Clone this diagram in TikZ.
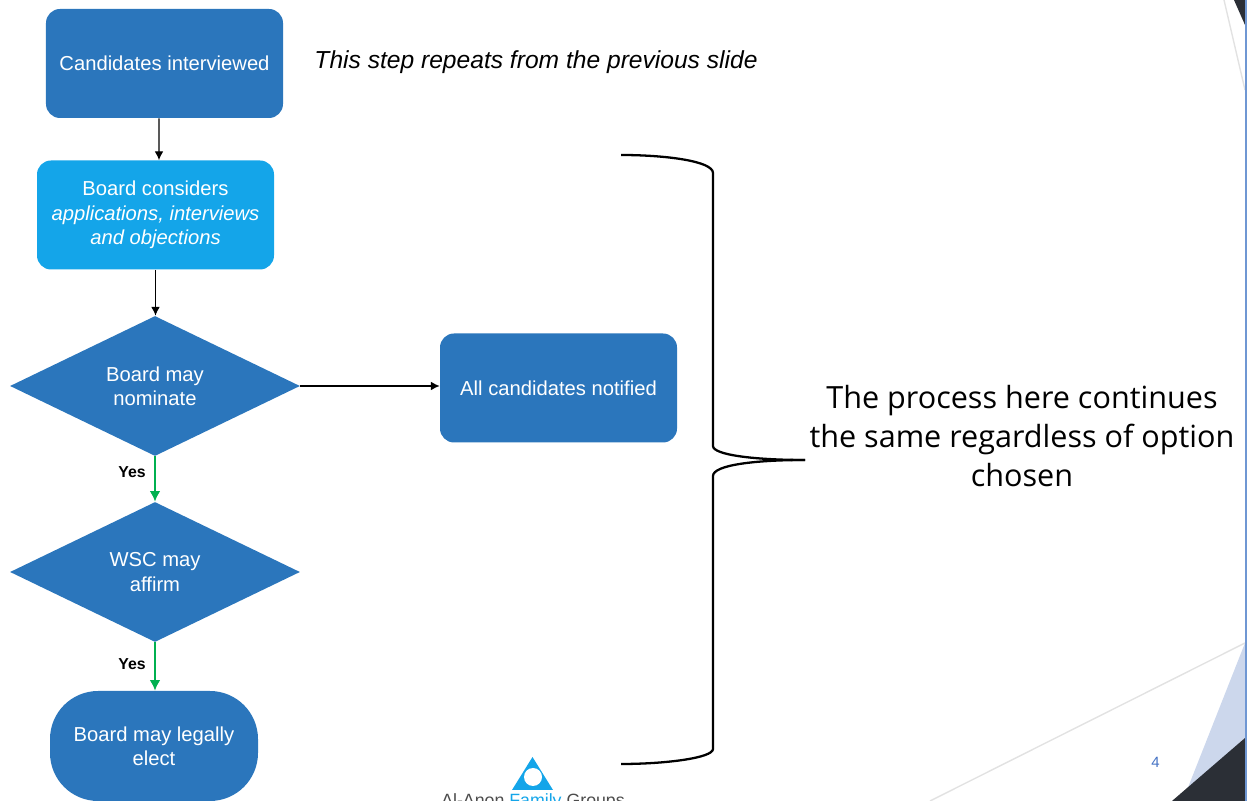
\documentclass[tikz,border=0pt]{standalone}
\usepackage{fontspec}
\setmainfont{Liberation Sans}
\newfontfamily\bigfont{Open Sans}
\usetikzlibrary{shapes.geometric,arrows.meta}
\definecolor{boxblue}{HTML}{2B76BC}
\definecolor{boxcyan}{HTML}{14A5E9}
\definecolor{yesgreen}{HTML}{00B050}
\definecolor{pagenum}{HTML}{4472C4}
\definecolor{edgeblue}{HTML}{6F97D3}
\definecolor{paleblue}{HTML}{CCD7EC}
\definecolor{darkslate}{HTML}{2B2F36}
\definecolor{linegrey}{HTML}{E2E2E2}
\tikzset{
  stepbox/.style={rectangle,rounded corners=14pt*0.57,fill=boxblue,text=white,minimum width=4.74cm,minimum height=2.18cm,align=center,font=\fontsize{11.5}{13.8}\selectfont,inner sep=0pt},
  choice/.style={diamond,fill=boxblue,text=white,minimum width=5.8cm,minimum height=2.8cm,align=center,font=\fontsize{11.5}{13.8}\selectfont,inner sep=0pt,aspect=2.07},
  yeslabel/.style={font=\bfseries\fontsize{9}{11}\selectfont},
  flow/.style={-{Latex[length=5pt,width=5pt]},black,line width=0.7pt},
  yesflow/.style={-{Latex[length=6pt,width=6pt]},yesgreen,line width=0.9pt}
}
\begin{document}
\begin{tikzpicture}
\useasboundingbox (0,0) rectangle (25.02,16.02);
% slide background
\fill[paleblue] (24.9,3.16) -- (24.9,1.26) -- (23.74,0.22) -- cycle;
\fill[darkslate] (24.9,1.26) -- (24.9,0) -- (23.44,0) -- cycle;
\fill[darkslate] (24.68,16.02) -- (24.9,16.02) -- (24.9,15.52) -- cycle;
\draw[linegrey,line width=0.8pt] (18.6,0) -- (24.9,3.16);
\draw[linegrey,line width=0.8pt] (24.48,16.02) -- (24.9,14.22);
\draw[edgeblue,line width=1pt] (24.92,0) -- (24.92,16.02);
% flow
\node[stepbox] (interviewed) at (3.29,14.75) {Candidates interviewed};
\node[stepbox,fill=boxcyan] (considers) at (3.11,11.72) {Board considers\\\textit{applications, interviews}\\\textit{and objections}};
\node[choice] (nominate) at (3.1,8.3) {Board may\\nominate};
\node[choice] (affirm) at (3.1,4.58) {WSC may\\affirm};
\node[stepbox] (notified) at (11.17,8.26) {All candidates notified};
\node[rectangle,rounded corners=48pt*0.57,fill=boxblue,text=white,minimum width=4.16cm,minimum height=2.2cm,align=center,font=\fontsize{11.5}{13.8}\selectfont,inner sep=0pt] (elect) at (3.08,1.1) {Board may legally\\elect};
\node[font=\itshape\fontsize{14}{17}\selectfont] (repeats) at (10.72,14.78) {This step repeats from the previous slide};
\node[yeslabel] (yesa) at (2.64,6.58) {Yes};
\node[yeslabel] (yesb) at (2.64,2.74) {Yes};
\draw[flow] ([xshift=-0.11cm]interviewed.south) -- ([xshift=0.07cm]considers.north);
\draw[flow] (considers.south) -- (considers.south |- nominate.north);
\draw[flow] (nominate.east) -- (nominate.east -| notified.west);
\draw[yesflow] (nominate.south) -- (affirm.north);
\draw[yesflow] (affirm.south) -- (affirm.south |- elect.north);
% brace
\draw[line width=1.3pt] (12.42,12.92) .. controls (13.3,12.92) and (14.26,12.8) .. (14.26,12.56) -- (14.26,7.1) .. controls (14.26,6.92) and (15.1,6.82) .. (16.1,6.82);
\draw[line width=1.3pt] (16.1,6.82) .. controls (15.1,6.82) and (14.26,6.72) .. (14.26,6.5) -- (14.26,1.04) .. controls (14.26,0.86) and (13.3,0.74) .. (12.42,0.74);
\node[font=\bigfont\fontsize{17.4}{22.4}\selectfont,align=center] (samenote) at (20.44,7.3) {The process here continues\\the same regardless of option\\chosen};
% logo and page number
\fill[boxcyan] (10.65,0.88) -- (10.24,0.22) -- (11.06,0.22) -- cycle;
\fill[white] (10.66,0.48) circle[radius=.18];
\node[font=\fontsize{10.1}{12}\selectfont,text=black!70] (logo) at (10.66,-0.02) {Al-Anon \textcolor{boxcyan}{Family} Groups};
\node[font=\fontsize{8.5}{10}\selectfont,text=pagenum] (pageno) at (23.11,0.77) {4};
\end{tikzpicture}
\end{document}
